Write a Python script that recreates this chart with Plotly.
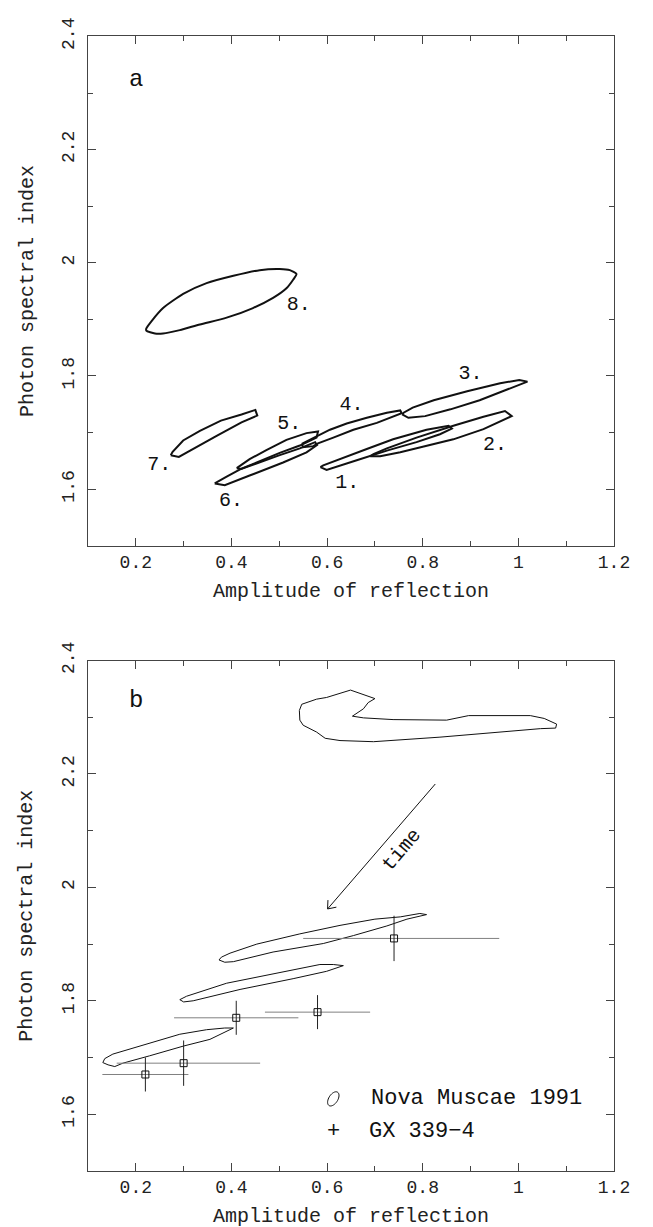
import numpy as np
import plotly.graph_objects as go

# ---------------- Panel a: confidence contours (amplitude of reflection, photon index)
C1 = [(0.586, 1.639), (0.599, 1.634), (0.662, 1.651), (0.725, 1.668), (0.787, 1.683),
      (0.836, 1.697), (0.861, 1.707), (0.854, 1.712), (0.808, 1.705), (0.738, 1.688),
      (0.683, 1.671), (0.627, 1.654), (0.592, 1.642)]
C2 = [(0.690, 1.658), (0.711, 1.658), (0.753, 1.665), (0.808, 1.677), (0.864, 1.688),
      (0.927, 1.706), (0.962, 1.719), (0.986, 1.729), (0.972, 1.738), (0.927, 1.728),
      (0.864, 1.712), (0.787, 1.691), (0.725, 1.672), (0.697, 1.662)]
C3 = [(0.757, 1.732), (0.770, 1.726), (0.805, 1.729), (0.858, 1.741), (0.919, 1.757),
      (0.971, 1.774), (1.019, 1.790), (1.002, 1.793), (0.962, 1.787), (0.893, 1.773),
      (0.823, 1.757), (0.779, 1.744), (0.760, 1.735)]
C4 = [(0.547, 1.680), (0.550, 1.674), (0.571, 1.676), (0.581, 1.681), (0.613, 1.691),
      (0.655, 1.705), (0.704, 1.717), (0.742, 1.729), (0.756, 1.734), (0.753, 1.739),
      (0.725, 1.735), (0.683, 1.726), (0.641, 1.716), (0.606, 1.705), (0.578, 1.693),
      (0.557, 1.684)]
C5 = [(0.411, 1.637), (0.438, 1.653), (0.473, 1.669), (0.515, 1.687), (0.557, 1.699),
      (0.581, 1.702), (0.578, 1.691), (0.543, 1.677), (0.501, 1.664), (0.459, 1.650),
      (0.421, 1.636)]
C6 = [(0.365, 1.610), (0.386, 1.607), (0.438, 1.624), (0.508, 1.647), (0.557, 1.665),
      (0.579, 1.678), (0.575, 1.683), (0.543, 1.672), (0.501, 1.660), (0.459, 1.647),
      (0.418, 1.635), (0.390, 1.622)]
C7 = [(0.273, 1.660), (0.290, 1.657), (0.369, 1.694), (0.421, 1.718), (0.454, 1.730),
      (0.450, 1.740), (0.421, 1.732), (0.378, 1.721), (0.334, 1.703), (0.299, 1.686),
      (0.277, 1.666)]
C8 = [(0.222, 1.880), (0.240, 1.875), (0.257, 1.875), (0.292, 1.881), (0.334, 1.891),
      (0.390, 1.903), (0.445, 1.920), (0.487, 1.938), (0.515, 1.955), (0.529, 1.970),
      (0.536, 1.980), (0.522, 1.987), (0.501, 1.989), (0.459, 1.987), (0.404, 1.977),
      (0.348, 1.964), (0.299, 1.945), (0.257, 1.920), (0.233, 1.897), (0.222, 1.884)]
CONTOURS_A = [C1, C2, C3, C4, C5, C6, C7, C8]

LABELS_A = ["1.", "2.", "3.", "4.", "5.", "6.", "7.", "8."]
LABEL_A_X = [0.642, 0.951, 0.900, 0.651, 0.521, 0.399, 0.249, 0.541]
LABEL_A_Y = [1.610, 1.678, 1.803, 1.748, 1.715, 1.579, 1.643, 1.926]

# ---------------- Panel b: Nova Muscae 1991 contours
NM_EARLY = [(0.547, 2.323), (0.578, 2.332), (0.599, 2.335), (0.649, 2.348), (0.700, 2.333),
            (0.686, 2.326), (0.676, 2.315), (0.653, 2.302), (0.676, 2.299), (0.738, 2.296),
            (0.850, 2.295), (0.896, 2.303), (1.025, 2.303), (1.054, 2.298), (1.080, 2.288),
            (1.078, 2.281), (1.046, 2.280), (0.836, 2.265), (0.697, 2.257), (0.627, 2.259),
            (0.596, 2.263), (0.578, 2.274), (0.550, 2.286), (0.543, 2.295), (0.542, 2.312)]
NM_1 = [(0.374, 1.872), (0.386, 1.868), (0.404, 1.869), (0.487, 1.886), (0.592, 1.901),
        (0.655, 1.915), (0.725, 1.932), (0.767, 1.944), (0.808, 1.952), (0.794, 1.954),
        (0.753, 1.948), (0.700, 1.944), (0.627, 1.933), (0.543, 1.918), (0.453, 1.900),
        (0.397, 1.884), (0.379, 1.877)]
NM_2 = [(0.292, 1.802), (0.300, 1.798), (0.320, 1.800), (0.418, 1.820), (0.529, 1.839),
        (0.599, 1.852), (0.634, 1.862), (0.613, 1.864), (0.585, 1.864), (0.487, 1.848),
        (0.390, 1.831), (0.306, 1.808)]
NM_3 = [(0.131, 1.691), (0.142, 1.687), (0.156, 1.684), (0.173, 1.690), (0.229, 1.703),
        (0.299, 1.720), (0.355, 1.732), (0.404, 1.752), (0.386, 1.752), (0.348, 1.749),
        (0.292, 1.741), (0.208, 1.720), (0.152, 1.706), (0.135, 1.698)]
CONTOURS_B = [NM_EARLY, NM_1, NM_2, NM_3]

# ---------------- Panel b: GX 339-4 points
GX_X = [0.22, 0.30, 0.41, 0.58, 0.74]
GX_Y = [1.67, 1.69, 1.77, 1.78, 1.91]
GX_XERR_MINUS = [0.09, 0.14, 0.13, 0.11, 0.19]
GX_XERR_PLUS = [0.09, 0.16, 0.13, 0.11, 0.22]
GX_YERR = [0.03, 0.04, 0.03, 0.03, 0.04]

# time arrow (tail -> tip) and its label
ARROW_TAIL = (0.829, 2.185)
ARROW_TIP = (0.601, 1.962)
TIME_LABEL = (0.757, 2.066)

# ---------------- layout geometry
W, H = 653, 1227
ML, MR = 88, 39
PW = W - ML - MR
X_RANGE = [0.1, 1.2]
Y_RANGE = [1.5, 2.4]
A_TOP, A_BOT = 17.7, 535.0
B_TOP, B_BOT = 651.7, 1170.0
dom_a = [1 - A_BOT / H, 1 - A_TOP / H]
dom_b = [1 - B_BOT / H, 1 - B_TOP / H]
PX_X = PW / (X_RANGE[1] - X_RANGE[0])
PX_Y = (A_BOT - A_TOP) / (Y_RANGE[1] - Y_RANGE[0])

FONT = "Liberation Mono"
INK = "#111111"
AXC = "#444444"

fig = go.Figure()


def closed(pts):
    xs = [p[0] for p in pts] + [pts[0][0]]
    ys = [p[1] for p in pts] + [pts[0][1]]
    return xs, ys


for i, c in enumerate(CONTOURS_A):
    xs, ys = closed(c)
    fig.add_trace(go.Scatter(x=xs, y=ys, mode="lines", xaxis="x", yaxis="y",
                             line=dict(color=INK, width=2,
                                       shape="spline" if i == 7 else "linear",
                                       smoothing=0.6),
                             hoverinfo="skip", showlegend=False))

fig.add_trace(go.Scatter(x=LABEL_A_X, y=LABEL_A_Y, text=LABELS_A, mode="text",
                         xaxis="x", yaxis="y",
                         textfont=dict(family=FONT, size=20, color=INK),
                         hoverinfo="skip", showlegend=False))

for c in CONTOURS_B:
    xs, ys = closed(c)
    fig.add_trace(go.Scatter(x=xs, y=ys, mode="lines", xaxis="x2", yaxis="y2",
                             line=dict(color=INK, width=1),
                             hoverinfo="skip", showlegend=False))

# error bars: horizontal (grey) and vertical (dark)
fig.add_trace(go.Scatter(x=GX_X, y=GX_Y, mode="markers", xaxis="x2", yaxis="y2",
                         marker=dict(size=0.1, color="rgba(0,0,0,0)"),
                         error_x=dict(type="data", array=GX_XERR_PLUS,
                                      arrayminus=GX_XERR_MINUS, symmetric=False,
                                      width=0, thickness=1, color="#808080"),
                         hoverinfo="skip", showlegend=False))
fig.add_trace(go.Scatter(x=GX_X, y=GX_Y, mode="markers", xaxis="x2", yaxis="y2",
                         marker=dict(symbol="square-open", size=7, color=INK,
                                     line=dict(width=1, color=INK)),
                         error_y=dict(type="data", array=GX_YERR, width=0,
                                      thickness=1, color="#222222"),
                         hoverinfo="skip", showlegend=False))

axis_common = dict(range=X_RANGE, showline=True, linecolor=AXC, linewidth=1,
                   mirror="allticks", ticks="inside", ticklen=8, tickwidth=1,
                   tickcolor=AXC, showgrid=False, zeroline=False, tick0=0, dtick=0.2,
                   tickfont=dict(family=FONT, size=18, color="#222222"),
                   minor=dict(ticks="inside", ticklen=5, tickwidth=1, tickcolor=AXC,
                              dtick=0.1, tick0=0, showgrid=False))

yax_common = dict(axis_common)
yax_common.update(range=Y_RANGE, tickangle=-90, ticklabelstandoff=6)

fig.update_layout(
    width=W, height=H,
    margin=dict(l=ML, r=MR, t=0, b=0),
    paper_bgcolor="white", plot_bgcolor="white",
    xaxis=dict(axis_common, domain=[0, 1], anchor="y"),
    yaxis=dict(yax_common, domain=dom_a, anchor="x"),
    xaxis2=dict(axis_common, domain=[0, 1], anchor="y2"),
    yaxis2=dict(yax_common, domain=dom_b, anchor="x2"),
    showlegend=False,
)

# axis titles
for top, bot in [(A_TOP, A_BOT), (B_TOP, B_BOT)]:
    fig.add_annotation(text="Amplitude of reflection", xref="paper", yref="paper",
                       x=0.5, y=1 - (bot + 46.7) / H, xanchor="center", yanchor="middle",
                       showarrow=False, font=dict(family=FONT, size=20, color="#222222"))
    fig.add_annotation(text="Photon spectral index", xref="paper", yref="paper",
                       x=(27 - ML) / PW, y=1 - (top + bot) / 2 / H, textangle=-90,
                       xanchor="center", yanchor="middle", showarrow=False,
                       font=dict(family=FONT, size=20, color="#222222"))

# panel letters
fig.add_annotation(text="a", x=0.201, y=2.323, xref="x", yref="y", showarrow=False,
                   font=dict(family=FONT, size=24, color=INK))
fig.add_annotation(text="b", x=0.201, y=2.329, xref="x2", yref="y2", showarrow=False,
                   font=dict(family=FONT, size=24, color=INK))

# time arrow
fig.add_annotation(x=ARROW_TIP[0], y=ARROW_TIP[1], ax=ARROW_TAIL[0], ay=ARROW_TAIL[1],
                   xref="x2", yref="y2", axref="x2", ayref="y2", showarrow=True,
                   arrowhead=0, arrowwidth=1, arrowcolor=INK, text="")
dxp = (ARROW_TAIL[0] - ARROW_TIP[0]) * PX_X
dyp = (ARROW_TAIL[1] - ARROW_TIP[1]) * PX_Y
ang = np.arctan2(dyp, dxp)
for s in (+1, -1):
    a2 = ang + s * np.radians(38)
    fig.add_shape(type="line", xref="x2", yref="y2",
                  x0=ARROW_TIP[0], y0=ARROW_TIP[1],
                  x1=ARROW_TIP[0] + 9 * np.cos(a2) / PX_X,
                  y1=ARROW_TIP[1] + 9 * np.sin(a2) / PX_Y,
                  line=dict(color=INK, width=1))
fig.add_annotation(text="time", x=TIME_LABEL[0], y=TIME_LABEL[1],
                   xref="x2", yref="y2", showarrow=False,
                   textangle=-np.degrees(ang),
                   font=dict(family=FONT, size=20, color=INK))

# legend (drawn as text)
LEG_SYM_X = 0.613
LEG_Y = [1.627, 1.569]
LEG_TEXT = ["Nova Muscae 1991", "GX 339\u22124"]
LEG_TEXT_X = [0.688, 0.683]
t = np.linspace(0, 2 * np.pi, 40)
rot = np.radians(58)
ex = 8 * np.cos(t) * np.cos(rot) - 4.5 * np.sin(t) * np.sin(rot)
ey = 8 * np.cos(t) * np.sin(rot) + 4.5 * np.sin(t) * np.cos(rot)
path = "M " + " L ".join(f"{LEG_SYM_X + u / PX_X:.5f},{LEG_Y[0] + v / PX_Y:.5f}"
                         for u, v in zip(ex, ey)) + " Z"
fig.add_shape(type="path", path=path, xref="x2", yref="y2",
              line=dict(color=INK, width=1))
fig.add_annotation(text="+", x=LEG_SYM_X, y=LEG_Y[1], xref="x2", yref="y2",
                   showarrow=False, font=dict(family=FONT, size=22, color=INK))
for tx, ty, tt in zip(LEG_TEXT_X, LEG_Y, LEG_TEXT):
    fig.add_annotation(text=tt, x=tx, y=ty, xref="x2", yref="y2", xanchor="left",
                       showarrow=False, font=dict(family=FONT, size=22, color=INK))

fig.write_html("out.html")
